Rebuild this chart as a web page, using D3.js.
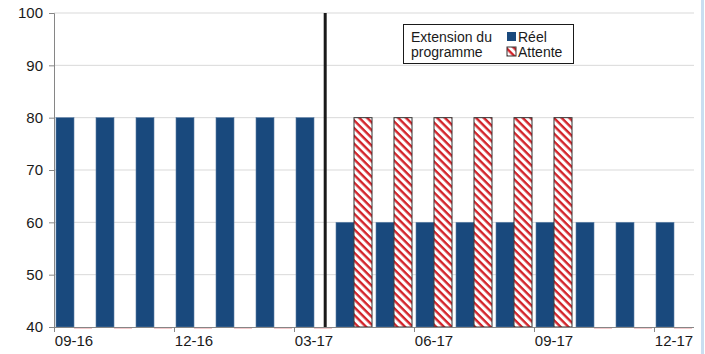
<!DOCTYPE html>
<html>
<head>
<meta charset="utf-8">
<script src="https://cdn.jsdelivr.net/npm/d3@7"></script>
<style>
  body { margin: 0; background: #fff; }
  svg { font-family: "Liberation Sans", Arial, sans-serif; }
</style>
</head>
<body>
<div id="chart"></div>
<script>
const months = ["09-16","10-16","11-16","12-16","01-17","02-17","03-17","04-17","05-17","06-17","07-17","08-17","09-17","10-17","11-17","12-17"];
const reel = [80,80,80,80,80,80,80,60,60,60,60,60,60,60,60,60];
const attente = [40,40,40,40,40,40,40,80,80,80,80,80,80,40,40,40];
const yTicks = [40,50,60,70,80,90,100];
const tickMonths = ["09-16","12-16","03-17","06-17","09-17","12-17"];
const legendTitle = ["Extension du", "programme"];
const seriesNames = ["Réel", "Attente"];

const W = 705, H = 354;
const margin = {top: 13, right: 11, bottom: 27, left: 54};
const width = W - margin.left - margin.right;
const height = H - margin.top - margin.bottom;

const svg = d3.select("#chart").append("svg")
    .attr("width", W)
    .attr("height", H);

// diagonal red hatch, stripes running top-left to bottom-right
const defs = svg.append("defs");
const pat = defs.append("pattern")
    .attr("id", "hatch")
    .attr("patternUnits", "userSpaceOnUse")
    .attr("width", 5.5)
    .attr("height", 5.5)
    .attr("patternTransform", "rotate(45)");
pat.append("rect").attr("width", 5.5).attr("height", 5.5).attr("fill", "#fff");
pat.append("rect").attr("width", 5.5).attr("height", 2.4).attr("fill", "#d3232a");

// right edge frame line
svg.append("rect")
    .attr("x", 701).attr("y", 0)
    .attr("width", 3).attr("height", H)
    .attr("fill", "#c9def1");

const g = svg.append("g")
    .attr("transform", `translate(${margin.left},${margin.top})`);

const x = d3.scaleBand()
    .domain(months)
    .range([0, width]);

const step = x.step();
const bw = (step - 4) / 2;

const y = d3.scaleLinear()
    .domain([40, 100])
    .range([height, 0]);

// grid
g.append("g")
    .selectAll("line")
    .data(yTicks.slice(1))
    .join("line")
        .attr("x1", 0)
        .attr("x2", width)
        .attr("y1", d => y(d))
        .attr("y2", d => y(d))
        .attr("stroke", "#d9d9d9")
        .attr("stroke-width", 1);

const bandStart = m => x(m);

// Réel bars
g.append("g")
    .selectAll("rect")
    .data(reel)
    .join("rect")
        .attr("x", (d, i) => x(months[i]) + 2)
        .attr("y", d => y(d))
        .attr("width", bw)
        .attr("height", d => y(40) - y(d))
        .attr("fill", "#19497d")
        .attr("stroke", "#5b7ea6")
        .attr("stroke-width", 0.6);

// Attente bars (baseline value -> only a faint stub)
g.append("g")
    .selectAll("rect")
    .data(attente)
    .join("rect")
        .attr("x", (d, i) => x(months[i]) + 2 + bw)
        .attr("y", d => d > 40 ? y(d) : y(40) + 0.5)
        .attr("width", bw)
        .attr("height", d => d > 40 ? y(40) - y(d) : 1.5)
        .attr("fill", d => d > 40 ? "url(#hatch)" : "#f3c9cb")
        .attr("stroke", d => d > 40 ? "#333" : "none")
        .attr("stroke-width", 1);

// axes
const yAxis = g.append("g")
    .call(d3.axisLeft(y).tickValues(yTicks).tickSize(5).tickPadding(6));
yAxis.select(".domain").attr("stroke", "#868686");
yAxis.selectAll(".tick line").attr("stroke", "#868686");
yAxis.selectAll("text")
    .attr("font-size", 15)
    .attr("fill", "#1a1a1a")
    .attr("font-family", "Liberation Sans, Arial, sans-serif");

const xAxis = g.append("g")
    .attr("transform", `translate(0,${height})`)
    .call(d3.axisBottom(x).tickValues(tickMonths).tickSize(0).tickPadding(8));
xAxis.select(".domain").attr("stroke", "#868686").attr("d", `M0,0.5H${width}`);
xAxis.selectAll("text")
    .attr("font-size", 15)
    .attr("fill", "#1a1a1a")
    .attr("font-family", "Liberation Sans, Arial, sans-serif");

// tick marks at the start of each quarter
g.append("g")
    .selectAll("line")
    .data(tickMonths)
    .join("line")
        .attr("x1", d => bandStart(d) + 0.5)
        .attr("x2", d => bandStart(d) + 0.5)
        .attr("y1", height)
        .attr("y2", height + 5)
        .attr("stroke", "#868686");

// program extension line
const extX = bandStart("03-17") + step * 0.78;
g.append("line")
    .attr("x1", extX).attr("x2", extX)
    .attr("y1", 0).attr("y2", height)
    .attr("stroke", "#1a1a1a")
    .attr("stroke-width", 3);

// legend
const lg = svg.append("g").attr("transform", "translate(403,24)");
lg.append("rect")
    .attr("x", 0.5).attr("y", 0.5)
    .attr("width", 170).attr("height", 39)
    .attr("fill", "#fff")
    .attr("stroke", "#1a1a1a")
    .attr("stroke-width", 1);
lg.selectAll("text.title")
    .data(legendTitle)
    .join("text")
        .attr("class", "title")
        .attr("x", 8)
        .attr("y", (d, i) => 18 + i * 15)
        .attr("font-size", 14)
        .attr("fill", "#1a1a1a")
        .text(d => d);

const items = lg.selectAll("g.item")
    .data(seriesNames)
    .join("g")
        .attr("class", "item")
        .attr("transform", (d, i) => `translate(104,${8 + i * 15})`);
items.append("rect")
    .attr("width", 9).attr("height", 9)
    .attr("fill", (d, i) => i === 0 ? "#19497d" : "url(#hatch)")
    .attr("stroke", (d, i) => i === 0 ? "none" : "#333")
    .attr("stroke-width", 1);
items.append("text")
    .attr("x", 11)
    .attr("y", 9.5)
    .attr("font-size", 14)
    .attr("fill", "#1a1a1a")
    .text(d => d);
</script>
</body>
</html>
